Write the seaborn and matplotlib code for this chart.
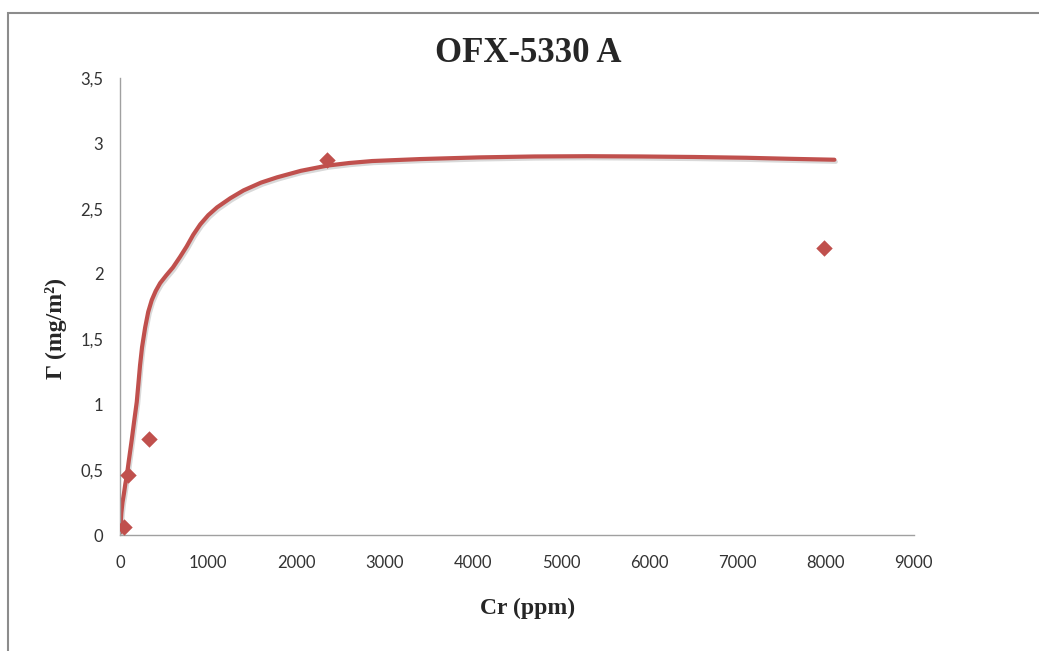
import matplotlib
matplotlib.use('Agg')
import matplotlib.pyplot as plt
import matplotlib.patheffects as pe
from matplotlib.patches import Rectangle
import pandas as pd
import seaborn as sns

# measured points
cr_points = [45, 88, 330, 2350, 7985]
gamma_points = [0.065, 0.46, 0.735, 2.87, 2.2]

# fitted curve
cr_curve = [3, 8, 15, 28, 45, 60, 76, 100, 133, 160, 190, 210, 227, 250, 285,
            320, 360, 405, 455, 525, 600, 680, 755, 830, 910, 1000, 1100, 1250,
            1400, 1600, 1780, 2050, 2350, 2600, 2860, 3400, 4075, 4700, 5300,
            5900, 6515, 7100, 7600, 8100]
gamma_curve = [0.02, 0.09, 0.17, 0.25, 0.32, 0.39, 0.45, 0.57, 0.73, 0.87, 1.02,
               1.17, 1.30, 1.44, 1.59, 1.71, 1.80, 1.87, 1.93, 1.99, 2.05, 2.13,
               2.21, 2.30, 2.38, 2.45, 2.51, 2.58, 2.64, 2.70, 2.74, 2.79, 2.83,
               2.85, 2.865, 2.88, 2.893, 2.90, 2.902, 2.90, 2.896, 2.89, 2.882,
               2.875]

x_ticks = [0, 1000, 2000, 3000, 4000, 5000, 6000, 7000, 8000, 9000]
y_ticks = [0, 0.5, 1, 1.5, 2, 2.5, 3, 3.5]

red = '#C0504D'

sns.set_style('white')
plt.rcParams['font.family'] = ['Lato', 'DejaVu Sans']

fig = plt.figure(figsize=(10.39, 6.51), dpi=100)
ax = fig.add_axes([0.1155, 0.178, 0.764, 0.702])

pts = pd.DataFrame({'Cr': cr_points, 'G': gamma_points})
curve = pd.DataFrame({'Cr': cr_curve, 'G': gamma_curve})

sns.lineplot(data=curve, x='Cr', y='G', ax=ax, color=red, linewidth=3, sort=False,
             solid_joinstyle='round',
             path_effects=[pe.SimpleLineShadow(offset=(1, -1.5), alpha=0.15), pe.Normal()])
sns.scatterplot(data=pts, x='Cr', y='G', ax=ax, marker='D', s=70, color=red,
                edgecolor=red, linewidth=0, zorder=5)

ax.set_xlim(0, 9000)
ax.set_ylim(0, 3.5)
ax.set_xticks(x_ticks)
ax.set_yticks(y_ticks)
ax.set_xticklabels([str(t) for t in x_ticks])
ax.set_yticklabels([str(t).replace('.', ',') for t in y_ticks])
ax.tick_params(length=0, labelsize=12, colors='#333333', pad=12)
ax.tick_params(axis='x', pad=14)

for side in ['top', 'right']:
    ax.spines[side].set_visible(False)
for side in ['left', 'bottom']:
    ax.spines[side].set_color('#a0a0a0')
    ax.spines[side].set_linewidth(1)

serif = ['Liberation Serif', 'DejaVu Serif']
ax.set_title('OFX-5330 A', family=serif, fontweight='bold', fontsize=25, x=0.514, y=1.017)
ax.set_xlabel('Cr (ppm)', family=serif, fontweight='bold', fontsize=17)
ax.set_ylabel('Γ (mg/m²)', family=serif, fontweight='bold', fontsize=17)
ax.xaxis.set_label_coords(0.514, -0.138)
ax.yaxis.set_label_coords(-0.067, 0.453)

# chart border
fig.patches.append(Rectangle((8 / 1039, -0.05), 1.2, 0.05 + 1 - 13 / 651,
                             transform=fig.transFigure, fill=False,
                             edgecolor='#8c8c8c', linewidth=1.5))

fig.savefig('out.png', dpi=100)
